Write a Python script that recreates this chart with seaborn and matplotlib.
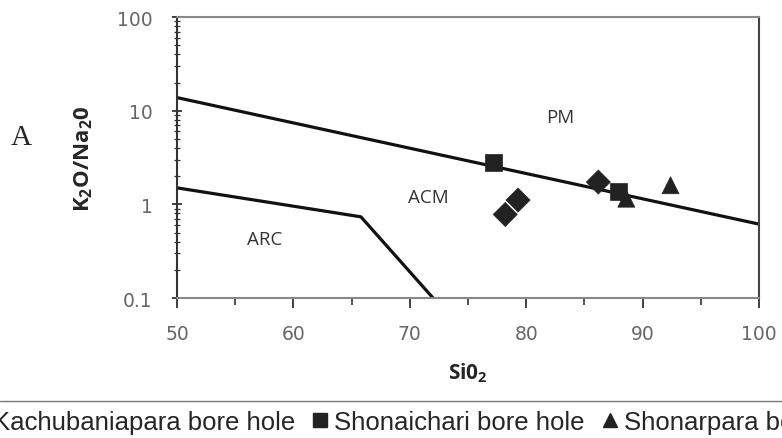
import numpy as np
import pandas as pd
import matplotlib
matplotlib.use("Agg")
import matplotlib.pyplot as plt
from matplotlib.lines import Line2D
from matplotlib.ticker import FixedLocator, FuncFormatter, LogLocator, NullFormatter
import seaborn as sns

# Datos de las muestras (SiO2 vs K2O/Na2O)
sio2 = [78.2, 79.3, 86.2, 77.2, 87.9, 88.6, 92.4]
k2o_na2o = [0.78, 1.11, 1.73, 2.83, 1.36, 1.15, 1.60]
pozo = ["Kachubaniapara bore hole"] * 3 + ["Shonaichari bore hole"] * 2 + ["Shonarpara bore hole"] * 2

# Limites de campos tectonicos
pm_x = [50, 100]
pm_y = [13.8, 0.615]
arc_x = [50, 65.8, 72.0]
arc_y = [1.5, 0.736, 0.1]

campos = ["PM", "ACM", "ARC"]
campos_x = [82.9, 71.6, 57.5]
campos_y = [8.5, 1.2, 0.43]

df = pd.DataFrame({"SiO2": sio2, "ratio": k2o_na2o, "pozo": pozo})

sns.set_style("ticks")
plt.rcParams['font.family'] = ['Liberation Sans', 'DejaVu Sans']
plt.rcParams['mathtext.fontset'] = 'custom'
plt.rcParams['mathtext.rm'] = 'Open Sans:bold'

fig = plt.figure(figsize=(7.82, 4.39), dpi=100)
ax = fig.add_axes([0.2263, 0.3189, 0.7443, 0.6400])

marcadores = {"Kachubaniapara bore hole": "D",
              "Shonaichari bore hole": "s",
              "Shonarpara bore hole": "^"}
sns.scatterplot(data=df, x="SiO2", y="ratio", style="pozo", markers=marcadores,
                color="#222222", s=150, edgecolor="#222222", linewidth=0.5,
                legend=False, ax=ax, zorder=3)

ax.plot(pm_x, pm_y, color="#111111", lw=2.3, zorder=2)
ax.plot(arc_x, arc_y, color="#111111", lw=2.3, zorder=2)

for nombre, cx, cy in zip(campos, campos_x, campos_y):
    ax.text(cx, cy, nombre, fontsize=13.5, family="Open Sans", color="#333333",
            ha="center", va="center")

ax.set_yscale("log")
ax.set_xlim(50, 100)
ax.set_ylim(0.1, 100)
ax.xaxis.set_major_locator(FixedLocator([50, 60, 70, 80, 90, 100]))
ax.xaxis.set_minor_locator(FixedLocator([55, 65, 75, 85, 95]))
ax.yaxis.set_major_locator(FixedLocator([0.1, 1, 10, 100]))
ax.yaxis.set_minor_locator(LogLocator(base=10, subs=np.arange(2, 10)))
ax.yaxis.set_minor_formatter(NullFormatter())
ax.yaxis.set_major_formatter(FuncFormatter(lambda v, p: f"{v:g}"))

ax.tick_params(axis="both", which="both", bottom=True, left=True, top=False, right=False)
ax.tick_params(axis="both", which="major", labelsize=13.5, labelcolor="#666666",
               color="#333333", length=7, width=1.3)
ax.tick_params(axis="x", which="minor", length=5, width=1.2, color="#333333", direction="out")
ax.tick_params(axis="y", which="minor", length=4, width=0.9, color="#333333", direction="inout")
ax.tick_params(axis="y", which="major", direction="inout", pad=14)
ax.tick_params(axis="x", which="major", direction="out", pad=12)
for lbl in ax.get_xticklabels() + ax.get_yticklabels():
    lbl.set_family("DejaVu Sans")

for lado in ["top", "right", "bottom", "left"]:
    ax.spines[lado].set_color("#888888")
    ax.spines[lado].set_linewidth(1.5)
ax.spines["left"].set_color("#333333")
ax.spines["right"].set_color("#444444")

ax.set_xlabel("Si0$_{2}$", fontsize=15, fontweight="bold", family="Open Sans",
              labelpad=12)
ax.set_ylabel("K$_{2}$O/Na$_{2}$0", fontsize=16, fontweight="bold",
              family="Open Sans", labelpad=16)

fig.text(0.027, 0.686, "A", fontsize=21, family="Liberation Serif", ha="center", va="center")

# Linea y leyenda inferior (recortada como en el original)
fig.add_artist(Line2D([0, 1], [0.084, 0.084], transform=fig.transFigure,
                      color="#777777", lw=1.0))
handles = [Line2D([], [], ls="", marker=marcadores[k], color="#222222", markersize=10)
           for k in marcadores]
handles[0].set_markersize(8)
fig.legend(handles, list(marcadores.keys()), loc="center left",
           bbox_to_anchor=(-0.037, 0.036), ncol=3, frameon=False,
           fontsize=18.5, handlelength=0.6, handletextpad=0.25, columnspacing=0.67,
           borderaxespad=0, borderpad=0)

fig.savefig("out.png", dpi=100)
